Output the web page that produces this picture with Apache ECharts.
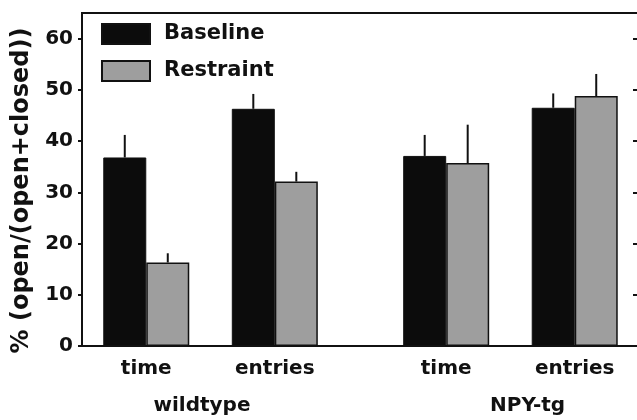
<!DOCTYPE html>
<html>
<head>
<meta charset="utf-8">
<script src="https://cdn.jsdelivr.net/npm/echarts@6/dist/echarts.min.js"></script>
<style>
  html, body { margin: 0; padding: 0; background: #fff; }
  #chart { width: 637px; height: 420px; }
</style>
</head>
<body>
<div id="chart"></div>
<script>
// ---- data ----
const categories = ['time', 'entries', 'time', 'entries'];
const categorySlots = [0, 3, 7, 10];          // slot index of each category on the x scale
const groups = ['wildtype', 'NPY-tg'];
const groupSlots = [1.3, 8.9];
const seriesNames = ['Baseline', 'Restraint'];
const baseline = [36.8, 46.3, 37.1, 46.5];
const baselineErr = [4.4, 2.9, 4.1, 2.8];
const restraint = [16.3, 32.1, 35.7, 48.8];
const restraintErr = [1.8, 1.9, 7.5, 4.3];
const yTicks = [0, 10, 20, 30, 40, 50, 60];

// ---- style ----
const FONT = 'DejaVu Sans';
const INK = '#111';
const BAR_W = 43;
const BLACK = '#0c0c0c';
const GRAY = '#9e9e9e';

const chart = echarts.init(document.getElementById('chart'), null, { renderer: 'canvas' });

function pairs(vals) { return vals.map((v, i) => [categorySlots[i], v]); }
function errData(vals, errs) { return vals.map((v, i) => [categorySlots[i], v, errs[i]]); }
function errRender(offset) {
  return function (params, api) {
    const x = api.value(0), v = api.value(1), e = api.value(2);
    const p0 = api.coord([x, v]);
    const p1 = api.coord([x, v + e]);
    return {
      type: 'line',
      shape: { x1: p0[0] + offset, y1: p0[1], x2: p1[0] + offset, y2: p1[1] },
      style: { stroke: INK, lineWidth: 2 }
    };
  };
}
const catLabel = {};
categorySlots.forEach((s, i) => { catLabel[s] = categories[i]; });
const grpLabel = {};
groupSlots.forEach((s, i) => { grpLabel[s] = groups[i]; });

const option = {
  backgroundColor: '#fff',
  animation: false,
  grid: { left: 82, top: 13, width: 557, bottom: 74, outerBoundsMode: 'none', containLabel: false,
          show: true, borderColor: INK, borderWidth: 2, backgroundColor: 'transparent' },
  legend: {
    data: seriesNames,
    orient: 'vertical',
    left: 96, top: 18,
    itemWidth: 48, itemHeight: 20, itemGap: 15,
    icon: 'rect',
    textStyle: { fontFamily: FONT, fontWeight: 'bold', fontSize: 21, color: INK, padding: [0, 0, 0, 9] }
  },
  xAxis: [{
    type: 'value', min: -1.5, max: 11.5, position: 'bottom',
    splitLine: { show: false },
    axisLine: { show: true, onZero: false, lineStyle: { color: INK, width: 2 } },
    axisTick: { show: false },
    axisLabel: {
      customValues: categorySlots,
      formatter: v => catLabel[v] || '',
      fontFamily: FONT, fontWeight: 'bold', fontSize: 20, color: INK, margin: 13
    }
  }, {
    type: 'value', min: -1.5, max: 11.5, position: 'bottom', offset: 0,
    splitLine: { show: false },
    axisLine: { show: false, onZero: false }, axisTick: { show: false },
    axisLabel: {
      customValues: groupSlots,
      formatter: v => grpLabel[v] || '',
      fontFamily: FONT, fontWeight: 'bold', fontSize: 20, color: INK, margin: 50
    }
  }],
  yAxis: [{
    type: 'value', min: 0, max: 65, interval: 10, position: 'left',
    name: '% (open/(open+closed))',
    nameLocation: 'middle', nameGap: 48,
    nameTextStyle: { fontFamily: FONT, fontWeight: 'bold', fontSize: 24, color: INK, padding: [0, 22, 0, 0] },
    splitLine: { show: false },
    axisLine: { show: true, onZero: false, lineStyle: { color: INK, width: 2 } },
    axisTick: { show: true, customValues: yTicks, length: 4, lineStyle: { color: INK, width: 2 } },
    axisLabel: { customValues: yTicks, fontFamily: FONT, fontWeight: 'bold', fontSize: 20, color: INK, margin: 9 }
  }, {
    type: 'value', min: 0, max: 65, interval: 10, position: 'right',
    splitLine: { show: false },
    axisLine: { show: true, onZero: false, lineStyle: { color: INK, width: 2 } },
    axisTick: { show: true, inside: true, customValues: yTicks, length: 6, lineStyle: { color: INK, width: 2 } },
    axisLabel: { show: false }
  }],
  series: [
    { name: seriesNames[0], type: 'bar', data: pairs(baseline), barWidth: BAR_W, barGap: '0%',
      itemStyle: { color: BLACK, borderColor: INK, borderWidth: 1 } },
    { name: seriesNames[1], type: 'bar', data: pairs(restraint), barWidth: BAR_W, barGap: '0%',
      itemStyle: { color: GRAY, borderColor: INK, borderWidth: 1.5 } },
    { type: 'custom', data: errData(baseline, baselineErr), renderItem: errRender(-BAR_W / 2),
      encode: { x: 0, y: 1 }, z: 5, silent: true },
    { type: 'custom', data: errData(restraint, restraintErr), renderItem: errRender(BAR_W / 2),
      encode: { x: 0, y: 1 }, z: 5, silent: true }
  ]
};
chart.setOption(option);
</script>
</body>
</html>
